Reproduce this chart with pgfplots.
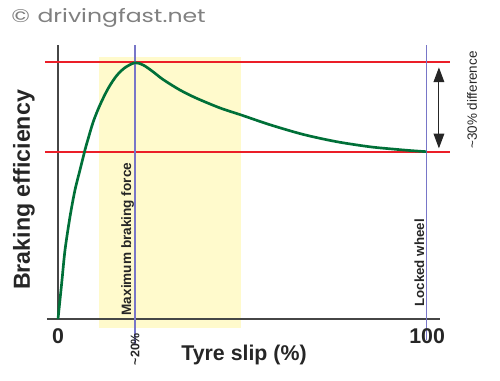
\documentclass[border=0pt]{standalone}
\usepackage{pgfplots}
\pgfplotsset{compat=1.18}
\usepackage{fontspec}
\setmainfont{Liberation Sans}
\newfontfamily\geofont[FakeStretch=1.28]{Poppins}
\usetikzlibrary{arrows.meta}
\definecolor{redline}{RGB}{235,30,40}
\definecolor{curvegreen}{RGB}{0,112,56}
\definecolor{blueline}{RGB}{120,118,200}
\definecolor{band}{RGB}{255,250,204}
\definecolor{axisgray}{RGB}{70,70,70}
\definecolor{copygray}{RGB}{128,128,128}
\begin{document}
\begin{tikzpicture}
\begin{axis}[
  scale only axis, width=375pt, height=285.75pt,
  xmin=-15.744, xmax=119.98, ymin=-0.24125, ymax=1.24125,
  axis lines=none, ticks=none, clip=false,
]
\path (rel axis cs:0,0) rectangle (rel axis cs:1,1);
% yellow band
\addplot[fill=band, draw=none] coordinates {(11.1,-0.035) (49.7,-0.035) (49.7,1.019) (11.1,1.019)} --cycle;
% axis lines
\addplot[axisgray, line width=1pt] coordinates {(-3.0,0) (103.7,0)};
\addplot[axisgray, line width=1pt] coordinates {(0,1.066) (0,0)};
% red lines
\addplot[redline, line width=2pt] coordinates {(-3.5,1.0) (106.4,1.0)};
\addplot[redline, line width=2pt] coordinates {(-3.5,0.65) (106.4,0.65)};
% blue lines
\addplot[blueline, line width=1pt] coordinates {(20.9,1.066) (20.9,-0.101)};
\addplot[blueline, line width=1pt] coordinates {(100,1.066) (100,-0.082)};
% curve
\addplot[curvegreen, line width=2pt, smooth, tension=0.5] coordinates {
(0,0) (1.0,0.139) (1.9,0.268) (3.26,0.398) (4.61,0.502) (5.97,0.580)
(7.33,0.658) (8.22,0.703) (9.58,0.768) (11.4,0.833) (13.65,0.898)
(15.93,0.947) (18.19,0.978) (20.9,0.997) (23.15,0.988)
(25.8,0.962) (28.5,0.932) (33.1,0.891) (37.6,0.859) (44.0,0.821)
(49.9,0.793) (57.5,0.756) (66.6,0.718) (75.6,0.690) (84.7,0.670)
(91.9,0.660) (96,0.655) (100,0.651)};
% double arrow
\draw[black!85, line width=0.8pt, {Triangle[width=8pt,length=11pt]}-{Triangle[width=8pt,length=11pt]}] (axis cs:103.4,0.979) -- (axis cs:103.4,0.664);
% texts
\node[anchor=base west, text=copygray, font=\geofont\fontsize{13.8}{14}\selectfont, inner sep=0pt] at (axis cs:-12.76,1.153) {©\hspace{1pt} drivingfast.net};
\node[rotate=90, font=\bfseries\fontsize{17.4}{18}\selectfont, text=black!85] at (axis cs:-9.23,0.502) {Braking efficiency};
\node[font=\bfseries\fontsize{16}{17}\selectfont, text=black!85] at (axis cs:50.49,-0.140) {Tyre slip (\%)};
\node[font=\bfseries\fontsize{16}{17}\selectfont, text=black!85] at (axis cs:0,-0.066) {0};
\node[font=\bfseries\fontsize{16}{17}\selectfont, text=black!85] at (axis cs:100.2,-0.066) {100};
\node[rotate=90, font=\bfseries\fontsize{9.3}{10}\selectfont, text=black!85] at (axis cs:20.9,-0.117) {\textasciitilde 20\%};
\node[rotate=90, font=\bfseries\fontsize{10.2}{11}\selectfont, text=black!85] at (axis cs:18.87,0.311) {Maximum braking force};
\node[rotate=90, font=\bfseries\fontsize{10}{11}\selectfont, text=black!85] at (axis cs:98.1,0.218) {Locked wheel};
\node[rotate=90, font=\fontsize{10.1}{11}\selectfont, text=black!85] at (axis cs:112.4,0.852) {\textasciitilde 30\% difference};
\end{axis}
\end{tikzpicture}
\end{document}
